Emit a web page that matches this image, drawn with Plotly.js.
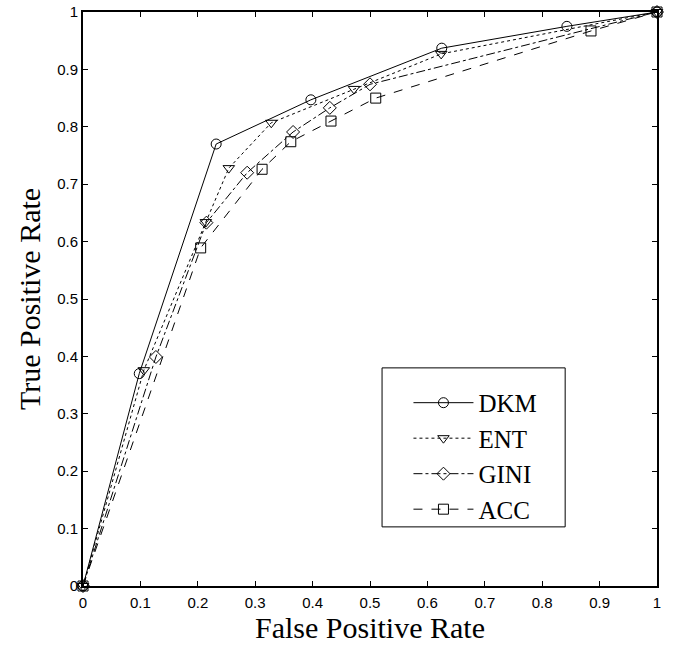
<!DOCTYPE html>
<html>
<head>
<meta charset="utf-8">
<script src="https://cdn.plot.ly/plotly-3.0.1.min.js"></script>
<style>html,body{margin:0;padding:0;background:#fff;}#chart{width:673px;height:652px;}</style>
</head>
<body>
<div id="chart"></div>
<script>
const dkmX = [0, 0.098, 0.232, 0.397, 0.625, 0.843, 1];
const dkmY = [0, 0.370, 0.770, 0.847, 0.937, 0.975, 1];
const entX = [0, 0.106, 0.214, 0.254, 0.328, 0.472, 0.624, 1];
const entY = [0, 0.376, 0.634, 0.728, 0.807, 0.866, 0.927, 1];
const giniX = [0, 0.127, 0.215, 0.286, 0.366, 0.430, 0.500, 1];
const giniY = [0, 0.399, 0.633, 0.720, 0.791, 0.833, 0.874, 1];
const accX = [0, 0.205, 0.312, 0.362, 0.432, 0.510, 0.885, 1];
const accY = [0, 0.589, 0.726, 0.774, 0.810, 0.850, 0.967, 1];
const tickVals = [0, 0.1, 0.2, 0.3, 0.4, 0.5, 0.6, 0.7, 0.8, 0.9, 1];
const tickText = ['0', '0.1', '0.2', '0.3', '0.4', '0.5', '0.6', '0.7', '0.8', '0.9', '1'];

function tr(name, x, y, dash, symbol) {
  return {
    type: 'scatter', mode: 'lines+markers', name: name, x: x, y: y,
    line: {color: '#000', width: 1, dash: dash},
    marker: {symbol: symbol, size: 10, color: '#000', line: {color: '#000', width: 1}},
    cliponaxis: false
  };
}
const data = [
  tr('DKM', dkmX, dkmY, 'solid', 'circle-open'),
  tr('ENT', entX, entY, 'dot', 'triangle-down-open'),
  tr('GINI', giniX, giniY, 'dashdot', 'diamond-open'),
  tr('ACC', accX, accY, 'dash', 'square-open')
];
const axisCommon = {
  range: [0, 1], tickvals: tickVals, ticktext: tickText,
  ticks: 'inside', ticklen: 5, tickcolor: '#000', tickwidth: 1,
  showline: true, linecolor: '#000', linewidth: 2, mirror: 'ticks',
  showgrid: false, zeroline: false,
  tickfont: {family: 'Liberation Sans, Arial, sans-serif', size: 15, color: '#000'}
};
const titleFont = {family: 'Liberation Serif, Times New Roman, serif', size: 30, color: '#000'};
const layout = {
  width: 673, height: 652,
  margin: {l: 83, r: 16, t: 12, b: 66},
  paper_bgcolor: '#fff', plot_bgcolor: '#fff',
  showlegend: true,
  xaxis: Object.assign({}, axisCommon, {
    ticklabelstandoff: 2,
    title: {text: 'False Positive Rate', font: titleFont, standoff: 2}
  }),
  yaxis: Object.assign({}, axisCommon, {
    ticklabelstandoff: 0,
    title: {text: 'True Positive Rate', font: titleFont, standoff: 8}
  }),
  shapes: [{
    type: 'rect', xref: 'paper', yref: 'paper',
    x0: 0.521, x1: 0.840, y0: 0.103, y1: 0.380,
    line: {color: '#000', width: 1}, fillcolor: 'rgba(0,0,0,0)', layer: 'above'
  }],
  legend: {
    x: 0.567, y: 0.359, xanchor: 'left', yanchor: 'top',
    bgcolor: 'rgba(0,0,0,0)', borderwidth: 0, itemwidth: 60,
    font: {family: 'Liberation Serif, Times New Roman, serif', size: 25, color: '#000'}
  }
};
Plotly.newPlot('chart', data, layout, {displayModeBar: false, staticPlot: true});
</script>
</body>
</html>
